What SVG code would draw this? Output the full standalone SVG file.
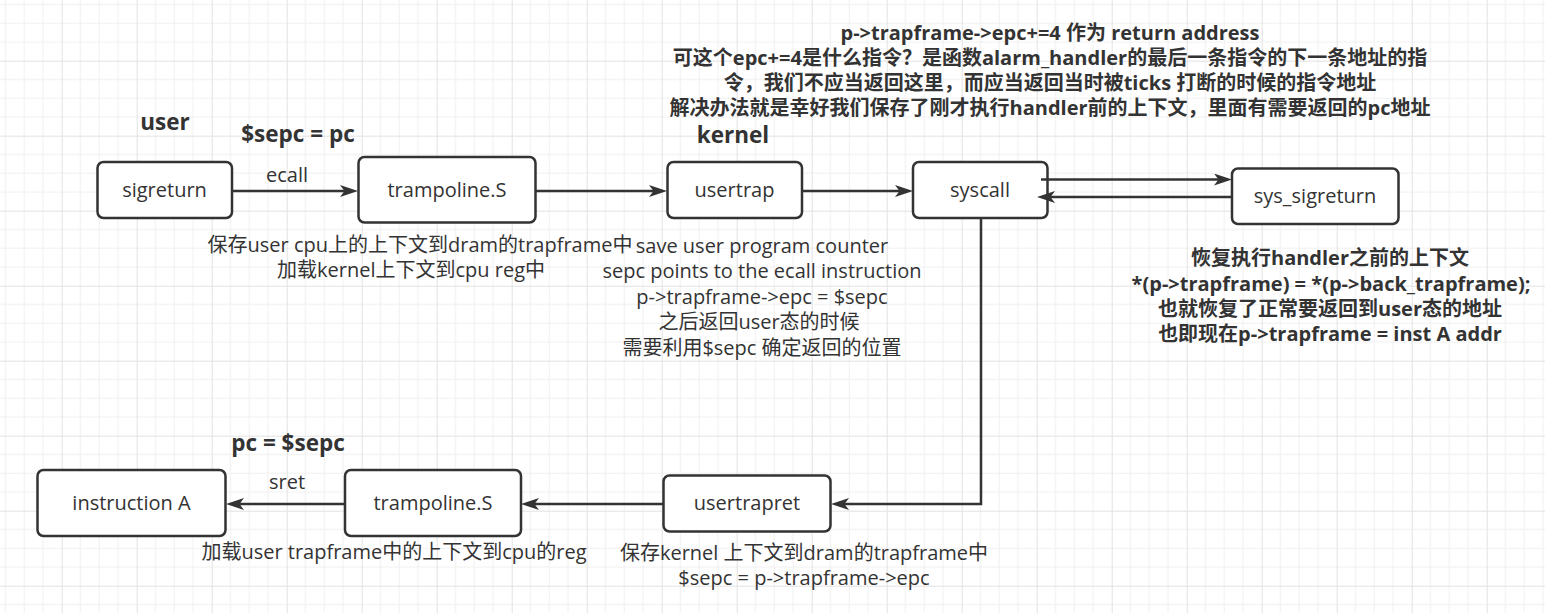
<svg xmlns="http://www.w3.org/2000/svg" width="1545" height="613" viewBox="0 0 1545 613">
  <defs>
    <pattern id="grid" x="61.7" y="60.7" width="75" height="75" patternUnits="userSpaceOnUse">
      <rect width="75" height="75" fill="#ffffff"/>
      <path d="M18.75 0V75M37.5 0V75M56.25 0V75M0 18.75H75M0 37.5H75M0 56.25H75" stroke="#f0f0f0" stroke-width="1" fill="none"/>
      <path d="M0.5 0V75M0 0.5H75" stroke="#e2e2e2" stroke-width="1" fill="none"/>
    </pattern>
    <marker id="arrow" viewBox="0 0 18 12" refX="6" refY="6" markerWidth="18" markerHeight="12" markerUnits="userSpaceOnUse" orient="auto">
      <path d="M0,0 L18,6 L0,12 L4.5,6 Z" fill="#333333"/>
    </marker>
    <style>
      .node rect { fill: #ffffff; stroke: #333333; stroke-width: 2.5; }
      .lbl { font-family: "Open Sans", "Noto Sans CJK SC", sans-serif; font-size: 20px; fill: #333333; text-anchor: middle; }
      .note { font-family: "Open Sans", "Noto Sans CJK SC", sans-serif; font-size: 20px; fill: #333333; text-anchor: middle; }
      .bold { font-family: "Open Sans", "Noto Sans CJK SC", sans-serif; font-size: 20px; font-weight: bold; fill: #333333; text-anchor: middle; }
      .head { font-family: "Open Sans", "Noto Sans CJK SC", sans-serif; font-size: 22.5px; font-weight: bold; fill: #333333; text-anchor: middle; }
      .edge { fill: none; stroke: #333333; stroke-width: 2.5; }
    </style>
  </defs>
  <rect x="0" y="0" width="1545" height="613" fill="url(#grid)"/>

  <g id="n-sigreturn" class="node">
    <rect x="97.5" y="162" width="134.5" height="56" rx="6"/>
    <text class="lbl" x="164.5" y="197">sigreturn</text>
  </g>
  <g id="n-trampoline-top" class="node">
    <rect x="358.5" y="157" width="177" height="65.5" rx="6"/>
    <text class="lbl" x="447" y="197">trampoline.S</text>
  </g>
  <g id="n-usertrap" class="node">
    <rect x="667.5" y="162" width="134.5" height="56" rx="6"/>
    <text class="lbl" x="734.5" y="197">usertrap</text>
  </g>
  <g id="n-syscall" class="node">
    <rect x="913" y="162" width="134.5" height="56" rx="6"/>
    <text class="lbl" x="980" y="197">syscall</text>
  </g>
  <g id="n-sys-sigreturn" class="node">
    <rect x="1232" y="168.5" width="166.5" height="55.5" rx="6"/>
    <text class="lbl" x="1315" y="203">sys_sigreturn</text>
  </g>
  <g id="n-instruction-a" class="node">
    <rect x="37.5" y="470" width="188" height="66" rx="6"/>
    <text class="lbl" x="131.5" y="510">instruction A</text>
  </g>
  <g id="n-trampoline-bottom" class="node">
    <rect x="345" y="470" width="176" height="66" rx="6"/>
    <text class="lbl" x="433" y="510">trampoline.S</text>
  </g>
  <g id="n-usertrapret" class="node">
    <rect x="663.5" y="475.5" width="167" height="56" rx="6"/>
    <text class="lbl" x="747" y="510">usertrapret</text>
  </g>

  <g id="connectors">
    <path class="edge" d="M232,191 H346" marker-end="url(#arrow)"/>
    <path class="edge" d="M536,191 H655" marker-end="url(#arrow)"/>
    <path class="edge" d="M802,191 H901" marker-end="url(#arrow)"/>
    <path class="edge" d="M1041,179.5 H1220" marker-end="url(#arrow)"/>
    <path class="edge" d="M1232,197 H1049" marker-end="url(#arrow)"/>
    <path class="edge" d="M981,219 V504 H843" marker-end="url(#arrow)"/>
    <path class="edge" d="M663,504 H533" marker-end="url(#arrow)"/>
    <path class="edge" d="M345,504 H238" marker-end="url(#arrow)"/>
    <text class="note" x="287" y="182">ecall</text>
    <text class="note" x="287" y="489">sret</text>
  </g>

  <g id="labels">
    <text class="head" x="165" y="130">user</text>
    <text class="head" x="298" y="142">$sepc = pc</text>
    <text class="head" x="733" y="143">kernel</text>
    <text class="head" x="288" y="451">pc = $sepc</text>

    <text class="bold" x="1050" y="40">p-&gt;trapframe-&gt;epc+=4 作为 return address</text>
    <text class="bold" x="1050" y="65">可这个epc+=4是什么指令？是函数alarm_handler的最后一条指令的下一条地址的指</text>
    <text class="bold" x="1050" y="90">令，我们不应当返回这里，而应当返回当时被ticks 打断的时候的指令地址</text>
    <text class="bold" x="1050" y="115">解决办法就是幸好我们保存了刚才执行handler前的上下文，里面有需要返回的pc地址</text>

    <text class="note" x="420" y="252">保存user cpu上的上下文到dram的trapframe中</text>
    <text class="note" x="411" y="277">加载kernel上下文到cpu reg中</text>

    <text class="note" x="762" y="253">save user program counter</text>
    <text class="note" x="762" y="278">sepc points to the ecall instruction</text>
    <text class="note" x="762" y="304">p-&gt;trapframe-&gt;epc = $sepc</text>
    <text class="note" x="759" y="329">之后返回user态的时候</text>
    <text class="note" x="762" y="355">需要利用$sepc 确定返回的位置</text>

    <text class="bold" x="1330" y="265">恢复执行handler之前的上下文</text>
    <text class="bold" x="1331" y="291">*(p-&gt;trapframe) = *(p-&gt;back_trapframe);</text>
    <text class="bold" x="1330" y="316">也就恢复了正常要返回到user态的地址</text>
    <text class="bold" x="1330" y="341">也即现在p-&gt;trapframe = inst A addr</text>

    <text class="note" x="394" y="559">加载user trapframe中的上下文到cpu的reg</text>
    <text class="note" x="804" y="560">保存kernel 上下文到dram的trapframe中</text>
    <text class="note" x="804" y="585">$sepc = p-&gt;trapframe-&gt;epc</text>
  </g>
</svg>
